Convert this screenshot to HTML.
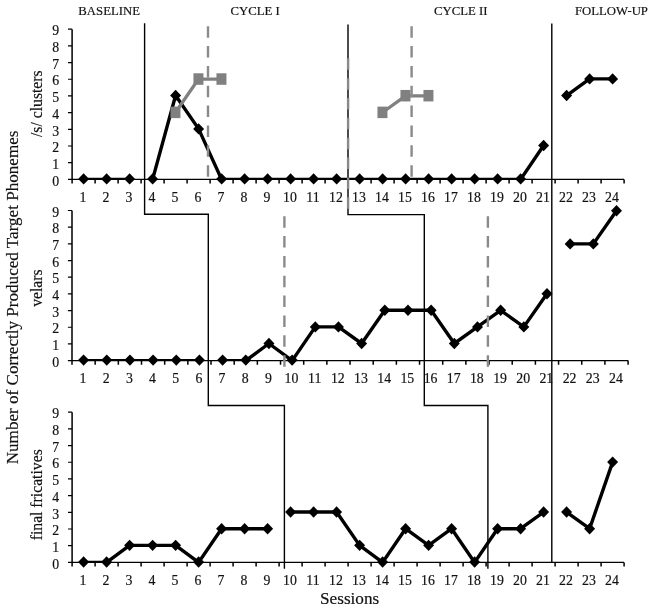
<!DOCTYPE html>
<html><head><meta charset="utf-8"><style>
html,body{margin:0;padding:0;background:#fff;}
body{width:654px;height:611px;overflow:hidden;font-family:"Liberation Serif",serif;}
svg{display:block;will-change:transform;}
</style></head><body>
<svg width="654" height="611" viewBox="0 0 654 611" font-family="'Liberation Serif', serif" font-size="13.8" fill="#111" stroke-width="0">
<style>text{stroke:#111;stroke-width:0.18px;}</style>
<rect width="654" height="611" fill="#fff"/>
<path d="M72.10,29.20V183.60M95.10,179.40V183.60M118.10,179.40V183.60M141.10,179.40V183.60M164.10,179.40V183.60M187.10,179.40V183.60M210.10,179.40V183.60M233.10,179.40V183.60M256.10,179.40V183.60M279.10,179.40V183.60M302.10,179.40V183.60M325.10,179.40V183.60M348.10,179.40V183.60M371.10,179.40V183.60M394.10,179.40V183.60M417.10,179.40V183.60M440.10,179.40V183.60M463.10,179.40V183.60M486.10,179.40V183.60M509.10,179.40V183.60M532.10,179.40V183.60M555.10,179.40V183.60M578.10,179.40V183.60M601.10,179.40V183.60M624.10,179.40V183.60" stroke="#000" stroke-width="1.5" fill="none"/>
<path d="M72.10,179.40H624.10M68.00,179.40H72.10M68.00,162.71H72.10M68.00,146.02H72.10M68.00,129.33H72.10M68.00,112.64H72.10M68.00,95.96H72.10M68.00,79.27H72.10M68.00,62.58H72.10M68.00,45.89H72.10M68.00,29.20H72.10" stroke="#000" stroke-width="1.2" fill="none"/>
<text x="59.2" y="185.60" text-anchor="end">0</text>
<text x="59.2" y="168.91" text-anchor="end">1</text>
<text x="59.2" y="152.22" text-anchor="end">2</text>
<text x="59.2" y="135.53" text-anchor="end">3</text>
<text x="59.2" y="118.84" text-anchor="end">4</text>
<text x="59.2" y="102.16" text-anchor="end">5</text>
<text x="59.2" y="85.47" text-anchor="end">6</text>
<text x="59.2" y="68.78" text-anchor="end">7</text>
<text x="59.2" y="52.09" text-anchor="end">8</text>
<text x="59.2" y="35.40" text-anchor="end">9</text>
<text x="83.00" y="201.90" text-anchor="middle">1</text>
<text x="106.00" y="201.90" text-anchor="middle">2</text>
<text x="129.00" y="201.90" text-anchor="middle">3</text>
<text x="152.00" y="201.90" text-anchor="middle">4</text>
<text x="175.00" y="201.90" text-anchor="middle">5</text>
<text x="198.00" y="201.90" text-anchor="middle">6</text>
<text x="221.00" y="201.90" text-anchor="middle">7</text>
<text x="244.00" y="201.90" text-anchor="middle">8</text>
<text x="267.00" y="201.90" text-anchor="middle">9</text>
<text x="290.00" y="201.90" text-anchor="middle">10</text>
<text x="313.00" y="201.90" text-anchor="middle">11</text>
<text x="336.00" y="201.90" text-anchor="middle">12</text>
<text x="359.00" y="201.90" text-anchor="middle">13</text>
<text x="382.00" y="201.90" text-anchor="middle">14</text>
<text x="405.00" y="201.90" text-anchor="middle">15</text>
<text x="428.00" y="201.90" text-anchor="middle">16</text>
<text x="451.00" y="201.90" text-anchor="middle">17</text>
<text x="474.00" y="201.90" text-anchor="middle">18</text>
<text x="497.00" y="201.90" text-anchor="middle">19</text>
<text x="520.00" y="201.90" text-anchor="middle">20</text>
<text x="543.00" y="201.90" text-anchor="middle">21</text>
<text x="566.00" y="201.90" text-anchor="middle">22</text>
<text x="589.00" y="201.90" text-anchor="middle">23</text>
<text x="612.00" y="201.90" text-anchor="middle">24</text>
<path d="M72.00,210.50V364.80M95.17,360.60V364.80M118.34,360.60V364.80M141.51,360.60V364.80M164.68,360.60V364.80M187.85,360.60V364.80M211.02,360.60V364.80M234.19,360.60V364.80M257.36,360.60V364.80M280.53,360.60V364.80M303.70,360.60V364.80M326.87,360.60V364.80M350.04,360.60V364.80M373.21,360.60V364.80M396.38,360.60V364.80M419.55,360.60V364.80M442.72,360.60V364.80M465.89,360.60V364.80M489.06,360.60V364.80M512.23,360.60V364.80M535.40,360.60V364.80M558.57,360.60V364.80M581.74,360.60V364.80M604.91,360.60V364.80M628.08,360.60V364.80" stroke="#000" stroke-width="1.5" fill="none"/>
<path d="M72.00,360.60H628.08M67.90,360.60H72.00M67.90,343.92H72.00M67.90,327.24H72.00M67.90,310.57H72.00M67.90,293.89H72.00M67.90,277.21H72.00M67.90,260.53H72.00M67.90,243.86H72.00M67.90,227.18H72.00M67.90,210.50H72.00" stroke="#000" stroke-width="1.2" fill="none"/>
<text x="59.2" y="366.80" text-anchor="end">0</text>
<text x="59.2" y="350.12" text-anchor="end">1</text>
<text x="59.2" y="333.44" text-anchor="end">2</text>
<text x="59.2" y="316.77" text-anchor="end">3</text>
<text x="59.2" y="300.09" text-anchor="end">4</text>
<text x="59.2" y="283.41" text-anchor="end">5</text>
<text x="59.2" y="266.73" text-anchor="end">6</text>
<text x="59.2" y="250.06" text-anchor="end">7</text>
<text x="59.2" y="233.38" text-anchor="end">8</text>
<text x="59.2" y="216.70" text-anchor="end">9</text>
<text x="82.99" y="383.10" text-anchor="middle">1</text>
<text x="106.16" y="383.10" text-anchor="middle">2</text>
<text x="129.33" y="383.10" text-anchor="middle">3</text>
<text x="152.50" y="383.10" text-anchor="middle">4</text>
<text x="175.67" y="383.10" text-anchor="middle">5</text>
<text x="198.84" y="383.10" text-anchor="middle">6</text>
<text x="222.01" y="383.10" text-anchor="middle">7</text>
<text x="245.18" y="383.10" text-anchor="middle">8</text>
<text x="268.35" y="383.10" text-anchor="middle">9</text>
<text x="291.51" y="383.10" text-anchor="middle">10</text>
<text x="314.69" y="383.10" text-anchor="middle">11</text>
<text x="337.86" y="383.10" text-anchor="middle">12</text>
<text x="361.02" y="383.10" text-anchor="middle">13</text>
<text x="384.19" y="383.10" text-anchor="middle">14</text>
<text x="407.37" y="383.10" text-anchor="middle">15</text>
<text x="430.54" y="383.10" text-anchor="middle">16</text>
<text x="453.70" y="383.10" text-anchor="middle">17</text>
<text x="476.88" y="383.10" text-anchor="middle">18</text>
<text x="500.05" y="383.10" text-anchor="middle">19</text>
<text x="523.22" y="383.10" text-anchor="middle">20</text>
<text x="546.38" y="383.10" text-anchor="middle">21</text>
<text x="569.55" y="383.10" text-anchor="middle">22</text>
<text x="592.73" y="383.10" text-anchor="middle">23</text>
<text x="615.89" y="383.10" text-anchor="middle">24</text>
<path d="M72.10,412.20V566.60M95.10,562.40V566.60M118.10,562.40V566.60M141.10,562.40V566.60M164.10,562.40V566.60M187.10,562.40V566.60M210.10,562.40V566.60M233.10,562.40V566.60M256.10,562.40V566.60M279.10,562.40V566.60M302.10,562.40V566.60M325.10,562.40V566.60M348.10,562.40V566.60M371.10,562.40V566.60M394.10,562.40V566.60M417.10,562.40V566.60M440.10,562.40V566.60M463.10,562.40V566.60M486.10,562.40V566.60M509.10,562.40V566.60M532.10,562.40V566.60M555.10,562.40V566.60M578.10,562.40V566.60M601.10,562.40V566.60M624.10,562.40V566.60" stroke="#000" stroke-width="1.5" fill="none"/>
<path d="M72.10,562.40H624.10M68.00,562.40H72.10M68.00,545.71H72.10M68.00,529.02H72.10M68.00,512.33H72.10M68.00,495.64H72.10M68.00,478.96H72.10M68.00,462.27H72.10M68.00,445.58H72.10M68.00,428.89H72.10M68.00,412.20H72.10" stroke="#000" stroke-width="1.2" fill="none"/>
<text x="59.2" y="568.60" text-anchor="end">0</text>
<text x="59.2" y="551.91" text-anchor="end">1</text>
<text x="59.2" y="535.22" text-anchor="end">2</text>
<text x="59.2" y="518.53" text-anchor="end">3</text>
<text x="59.2" y="501.84" text-anchor="end">4</text>
<text x="59.2" y="485.16" text-anchor="end">5</text>
<text x="59.2" y="468.47" text-anchor="end">6</text>
<text x="59.2" y="451.78" text-anchor="end">7</text>
<text x="59.2" y="435.09" text-anchor="end">8</text>
<text x="59.2" y="418.40" text-anchor="end">9</text>
<text x="83.00" y="584.90" text-anchor="middle">1</text>
<text x="106.00" y="584.90" text-anchor="middle">2</text>
<text x="129.00" y="584.90" text-anchor="middle">3</text>
<text x="152.00" y="584.90" text-anchor="middle">4</text>
<text x="175.00" y="584.90" text-anchor="middle">5</text>
<text x="198.00" y="584.90" text-anchor="middle">6</text>
<text x="221.00" y="584.90" text-anchor="middle">7</text>
<text x="244.00" y="584.90" text-anchor="middle">8</text>
<text x="267.00" y="584.90" text-anchor="middle">9</text>
<text x="290.00" y="584.90" text-anchor="middle">10</text>
<text x="313.00" y="584.90" text-anchor="middle">11</text>
<text x="336.00" y="584.90" text-anchor="middle">12</text>
<text x="359.00" y="584.90" text-anchor="middle">13</text>
<text x="382.00" y="584.90" text-anchor="middle">14</text>
<text x="405.00" y="584.90" text-anchor="middle">15</text>
<text x="428.00" y="584.90" text-anchor="middle">16</text>
<text x="451.00" y="584.90" text-anchor="middle">17</text>
<text x="474.00" y="584.90" text-anchor="middle">18</text>
<text x="497.00" y="584.90" text-anchor="middle">19</text>
<text x="520.00" y="584.90" text-anchor="middle">20</text>
<text x="543.00" y="584.90" text-anchor="middle">21</text>
<text x="566.00" y="584.90" text-anchor="middle">22</text>
<text x="589.00" y="584.90" text-anchor="middle">23</text>
<text x="612.00" y="584.90" text-anchor="middle">24</text>
<path d="M144.6,23.3V214.2H208.3V405.5H284.4V568.8" stroke="#000" stroke-width="1.4" fill="none"/>
<path d="M348.0,24.4V214.6H424.3V405.5H487.9V568.8" stroke="#000" stroke-width="1.4" fill="none"/>
<path d="M551.8,23.5V562.6" stroke="#000" stroke-width="1.4" fill="none"/>
<clipPath id="c0"><rect x="72.1" y="20.53" width="552.00" height="158.87"/></clipPath>
<clipPath id="c1"><rect x="72.0" y="202.40" width="556.08" height="158.20"/></clipPath>
<clipPath id="c2"><rect x="72.1" y="403.83" width="552.00" height="158.57"/></clipPath>
<polyline clip-path="url(#c0)" points="83.60,179.40 106.60,179.40 129.60,179.40" stroke="#000" stroke-width="3.4" fill="none" stroke-linejoin="round"/>
<polyline clip-path="url(#c0)" points="152.60,179.40 175.60,95.55 198.60,128.89 221.60,179.40 244.60,179.40 267.60,179.40 290.60,179.40 313.60,179.40 336.60,179.40 359.60,179.40 382.60,179.40 405.60,179.40 428.60,179.40 451.60,179.40 474.60,179.40 497.60,179.40 520.60,179.40 543.60,145.56" stroke="#000" stroke-width="3.4" fill="none" stroke-linejoin="round"/>
<polyline clip-path="url(#c0)" points="566.60,95.55 589.60,78.88 612.60,78.88" stroke="#000" stroke-width="3.4" fill="none" stroke-linejoin="round"/>
<polyline clip-path="url(#c1)" points="83.59,360.60 106.75,360.60 129.93,360.60 153.09,360.60 176.27,360.60 199.44,360.60" stroke="#000" stroke-width="3.4" fill="none" stroke-linejoin="round"/>
<polyline clip-path="url(#c1)" points="222.61,360.60 245.78,360.60 268.95,343.50 292.12,360.60 315.29,326.90 338.46,326.90 361.62,343.50 384.80,310.30 407.97,310.30 431.14,310.30 454.31,343.50 477.48,326.90 500.65,310.30 523.82,326.90 546.99,293.70" stroke="#000" stroke-width="3.4" fill="none" stroke-linejoin="round"/>
<polyline clip-path="url(#c1)" points="570.15,243.90 593.33,243.90 616.50,210.70" stroke="#000" stroke-width="3.4" fill="none" stroke-linejoin="round"/>
<polyline clip-path="url(#c2)" points="83.60,562.40 106.60,562.40 129.60,545.35 152.60,545.35 175.60,545.35 198.60,562.40 221.60,528.70 244.60,528.70 267.60,528.70" stroke="#000" stroke-width="3.4" fill="none" stroke-linejoin="round"/>
<polyline clip-path="url(#c2)" points="290.60,512.05 313.60,512.05 336.60,512.05 359.60,545.35 382.60,562.40 405.60,528.70 428.60,545.35 451.60,528.70 474.60,562.40 497.60,528.70 520.60,528.70 543.60,512.05" stroke="#000" stroke-width="3.4" fill="none" stroke-linejoin="round"/>
<polyline clip-path="url(#c2)" points="566.60,512.05 589.60,528.70 612.60,462.10" stroke="#000" stroke-width="3.4" fill="none" stroke-linejoin="round"/>
<path d="M83.60,173.20L89.10,178.90L83.60,184.60L78.10,178.90Z" fill="#000"/>
<path d="M106.60,173.20L112.10,178.90L106.60,184.60L101.10,178.90Z" fill="#000"/>
<path d="M129.60,173.20L135.10,178.90L129.60,184.60L124.10,178.90Z" fill="#000"/>
<path d="M152.60,173.20L158.10,178.90L152.60,184.60L147.10,178.90Z" fill="#000"/>
<path d="M175.60,89.85L181.10,95.55L175.60,101.25L170.10,95.55Z" fill="#000"/>
<path d="M198.60,123.19L204.10,128.89L198.60,134.59L193.10,128.89Z" fill="#000"/>
<path d="M221.60,173.20L227.10,178.90L221.60,184.60L216.10,178.90Z" fill="#000"/>
<path d="M244.60,173.20L250.10,178.90L244.60,184.60L239.10,178.90Z" fill="#000"/>
<path d="M267.60,173.20L273.10,178.90L267.60,184.60L262.10,178.90Z" fill="#000"/>
<path d="M290.60,173.20L296.10,178.90L290.60,184.60L285.10,178.90Z" fill="#000"/>
<path d="M313.60,173.20L319.10,178.90L313.60,184.60L308.10,178.90Z" fill="#000"/>
<path d="M336.60,173.20L342.10,178.90L336.60,184.60L331.10,178.90Z" fill="#000"/>
<path d="M359.60,173.20L365.10,178.90L359.60,184.60L354.10,178.90Z" fill="#000"/>
<path d="M382.60,173.20L388.10,178.90L382.60,184.60L377.10,178.90Z" fill="#000"/>
<path d="M405.60,173.20L411.10,178.90L405.60,184.60L400.10,178.90Z" fill="#000"/>
<path d="M428.60,173.20L434.10,178.90L428.60,184.60L423.10,178.90Z" fill="#000"/>
<path d="M451.60,173.20L457.10,178.90L451.60,184.60L446.10,178.90Z" fill="#000"/>
<path d="M474.60,173.20L480.10,178.90L474.60,184.60L469.10,178.90Z" fill="#000"/>
<path d="M497.60,173.20L503.10,178.90L497.60,184.60L492.10,178.90Z" fill="#000"/>
<path d="M520.60,173.20L526.10,178.90L520.60,184.60L515.10,178.90Z" fill="#000"/>
<path d="M543.60,139.86L549.10,145.56L543.60,151.26L538.10,145.56Z" fill="#000"/>
<path d="M566.60,89.85L572.10,95.55L566.60,101.25L561.10,95.55Z" fill="#000"/>
<path d="M589.60,73.18L595.10,78.88L589.60,84.58L584.10,78.88Z" fill="#000"/>
<path d="M612.60,73.18L618.10,78.88L612.60,84.58L607.10,78.88Z" fill="#000"/>
<path d="M83.59,354.40L89.09,360.10L83.59,365.80L78.09,360.10Z" fill="#000"/>
<path d="M106.75,354.40L112.25,360.10L106.75,365.80L101.25,360.10Z" fill="#000"/>
<path d="M129.93,354.40L135.43,360.10L129.93,365.80L124.43,360.10Z" fill="#000"/>
<path d="M153.09,354.40L158.59,360.10L153.09,365.80L147.59,360.10Z" fill="#000"/>
<path d="M176.27,354.40L181.77,360.10L176.27,365.80L170.77,360.10Z" fill="#000"/>
<path d="M199.44,354.40L204.94,360.10L199.44,365.80L193.94,360.10Z" fill="#000"/>
<path d="M222.61,354.40L228.11,360.10L222.61,365.80L217.11,360.10Z" fill="#000"/>
<path d="M245.78,354.40L251.28,360.10L245.78,365.80L240.28,360.10Z" fill="#000"/>
<path d="M268.95,337.80L274.45,343.50L268.95,349.20L263.45,343.50Z" fill="#000"/>
<path d="M292.12,354.40L297.62,360.10L292.12,365.80L286.62,360.10Z" fill="#000"/>
<path d="M315.29,321.20L320.79,326.90L315.29,332.60L309.79,326.90Z" fill="#000"/>
<path d="M338.46,321.20L343.96,326.90L338.46,332.60L332.96,326.90Z" fill="#000"/>
<path d="M361.62,337.80L367.12,343.50L361.62,349.20L356.12,343.50Z" fill="#000"/>
<path d="M384.80,304.60L390.30,310.30L384.80,316.00L379.30,310.30Z" fill="#000"/>
<path d="M407.97,304.60L413.47,310.30L407.97,316.00L402.47,310.30Z" fill="#000"/>
<path d="M431.14,304.60L436.64,310.30L431.14,316.00L425.64,310.30Z" fill="#000"/>
<path d="M454.31,337.80L459.81,343.50L454.31,349.20L448.81,343.50Z" fill="#000"/>
<path d="M477.48,321.20L482.98,326.90L477.48,332.60L471.98,326.90Z" fill="#000"/>
<path d="M500.65,304.60L506.15,310.30L500.65,316.00L495.15,310.30Z" fill="#000"/>
<path d="M523.82,321.20L529.32,326.90L523.82,332.60L518.32,326.90Z" fill="#000"/>
<path d="M546.99,288.00L552.49,293.70L546.99,299.40L541.49,293.70Z" fill="#000"/>
<path d="M570.15,238.20L575.65,243.90L570.15,249.60L564.65,243.90Z" fill="#000"/>
<path d="M593.33,238.20L598.83,243.90L593.33,249.60L587.83,243.90Z" fill="#000"/>
<path d="M616.50,205.00L622.00,210.70L616.50,216.40L611.00,210.70Z" fill="#000"/>
<path d="M83.60,556.30L89.10,562.00L83.60,567.70L78.10,562.00Z" fill="#000"/>
<path d="M106.60,556.30L112.10,562.00L106.60,567.70L101.10,562.00Z" fill="#000"/>
<path d="M129.60,539.65L135.10,545.35L129.60,551.05L124.10,545.35Z" fill="#000"/>
<path d="M152.60,539.65L158.10,545.35L152.60,551.05L147.10,545.35Z" fill="#000"/>
<path d="M175.60,539.65L181.10,545.35L175.60,551.05L170.10,545.35Z" fill="#000"/>
<path d="M198.60,556.30L204.10,562.00L198.60,567.70L193.10,562.00Z" fill="#000"/>
<path d="M221.60,523.00L227.10,528.70L221.60,534.40L216.10,528.70Z" fill="#000"/>
<path d="M244.60,523.00L250.10,528.70L244.60,534.40L239.10,528.70Z" fill="#000"/>
<path d="M267.60,523.00L273.10,528.70L267.60,534.40L262.10,528.70Z" fill="#000"/>
<path d="M290.60,506.35L296.10,512.05L290.60,517.75L285.10,512.05Z" fill="#000"/>
<path d="M313.60,506.35L319.10,512.05L313.60,517.75L308.10,512.05Z" fill="#000"/>
<path d="M336.60,506.35L342.10,512.05L336.60,517.75L331.10,512.05Z" fill="#000"/>
<path d="M359.60,539.65L365.10,545.35L359.60,551.05L354.10,545.35Z" fill="#000"/>
<path d="M382.60,556.30L388.10,562.00L382.60,567.70L377.10,562.00Z" fill="#000"/>
<path d="M405.60,523.00L411.10,528.70L405.60,534.40L400.10,528.70Z" fill="#000"/>
<path d="M428.60,539.65L434.10,545.35L428.60,551.05L423.10,545.35Z" fill="#000"/>
<path d="M451.60,523.00L457.10,528.70L451.60,534.40L446.10,528.70Z" fill="#000"/>
<path d="M474.60,556.30L480.10,562.00L474.60,567.70L469.10,562.00Z" fill="#000"/>
<path d="M497.60,523.00L503.10,528.70L497.60,534.40L492.10,528.70Z" fill="#000"/>
<path d="M520.60,523.00L526.10,528.70L520.60,534.40L515.10,528.70Z" fill="#000"/>
<path d="M543.60,506.35L549.10,512.05L543.60,517.75L538.10,512.05Z" fill="#000"/>
<path d="M566.60,506.35L572.10,512.05L566.60,517.75L561.10,512.05Z" fill="#000"/>
<path d="M589.60,523.00L595.10,528.70L589.60,534.40L584.10,528.70Z" fill="#000"/>
<path d="M612.60,456.40L618.10,462.10L612.60,467.80L607.10,462.10Z" fill="#000"/>
<polyline points="175.45,112.52 198.45,79.18 221.45,79.18" stroke="#808080" stroke-width="3.3" fill="none"/>
<rect x="170.45" y="106.62" width="10" height="11.5" fill="#808080"/>
<rect x="193.45" y="73.28" width="10" height="11.5" fill="#808080"/>
<rect x="216.45" y="73.28" width="10" height="11.5" fill="#808080"/>
<polyline points="382.45,112.52 405.45,95.85 428.45,95.85" stroke="#808080" stroke-width="3.3" fill="none"/>
<rect x="377.45" y="106.62" width="10" height="11.5" fill="#808080"/>
<rect x="400.45" y="89.95" width="10" height="11.5" fill="#808080"/>
<rect x="423.45" y="89.95" width="10" height="11.5" fill="#808080"/>
<path d="M208.00,26.20v11.5M208.00,46.05v11.5M208.00,65.90v11.5M208.00,85.75v11.5M208.00,105.60v11.5M208.00,125.45v11.5M208.00,145.30v11.5M208.00,165.15v11.5" stroke="#8a8a8a" stroke-width="2.4" fill="none"/>
<path d="M411.60,26.20v11.5M411.60,46.05v11.5M411.60,65.90v11.5M411.60,85.75v11.5M411.60,105.60v11.5M411.60,125.45v11.5M411.60,145.30v11.5M411.60,165.15v11.5" stroke="#8a8a8a" stroke-width="2.4" fill="none"/>
<path d="M348.10,58.30v11.5M348.10,78.15v11.5M348.10,98.00v11.5M348.10,117.85v11.5M348.10,137.70v11.5M348.10,157.55v11.5M348.10,177.40v11.5M348.10,197.25v11.5" stroke="#8a8a8a" stroke-width="2.4" fill="none"/>
<path d="M284.40,216.20v11.5M284.40,236.05v11.5M284.40,255.90v11.5M284.40,275.75v11.5M284.40,295.60v11.5M284.40,315.45v11.5M284.40,335.30v11.5M284.40,355.15v11.5" stroke="#8a8a8a" stroke-width="2.4" fill="none"/>
<path d="M487.90,216.20v11.5M487.90,236.05v11.5M487.90,255.90v11.5M487.90,275.75v11.5M487.90,295.60v11.5M487.90,315.45v11.5M487.90,335.30v11.5M487.90,355.15v11.5" stroke="#8a8a8a" stroke-width="2.4" fill="none"/>
<text transform="translate(78.3,14.7) scale(0.95,1)" font-size="13.45">BASELINE</text>
<text transform="translate(230.5,14.7) scale(0.95,1)" font-size="13.45">CYCLE I</text>
<text transform="translate(434.0,14.7) scale(0.95,1)" font-size="13.45">CYCLE II</text>
<text transform="translate(574.9,14.7) scale(0.95,1)" font-size="13.45">FOLLOW-UP</text>
<text transform="translate(17.9,464.3) rotate(-90)" font-size="17.1">Number of Correctly Produced Target Phonemes</text>
<text transform="translate(41.9,137.0) rotate(-90)" font-size="15.7">/s/ clusters</text>
<text transform="translate(41.9,306.8) rotate(-90)" font-size="15.7">velars</text>
<text transform="translate(41.9,540.3) rotate(-90)" font-size="15.7">final fricatives</text>
<text x="320.0" y="604.0" font-size="17.2">Sessions</text>
</svg>
</body></html>
